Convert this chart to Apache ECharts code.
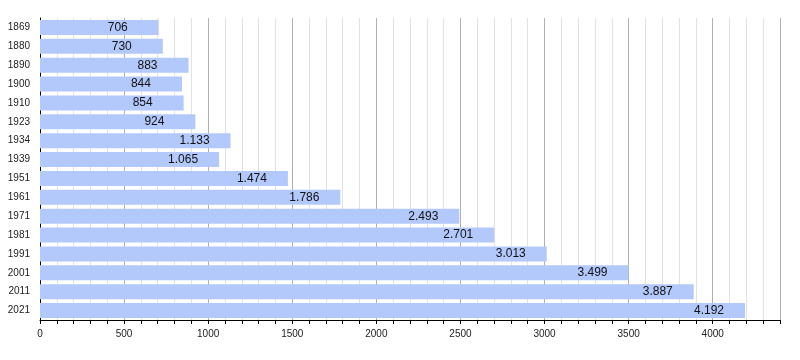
<!DOCTYPE html>
<html><head><meta charset="utf-8">
<script src="https://cdn.jsdelivr.net/npm/echarts@6/dist/echarts.min.js"></script>
<style>html,body{margin:0;padding:0;background:#fff}#c{width:800px;height:360px}</style>
</head><body><div id="c"></div>
<script>
const years = ['1869','1880','1890','1900','1910','1923','1934','1939','1951','1961','1971','1981','1991','2001','2011','2021'];
const population = [706,730,883,844,854,924,1133,1065,1474,1786,2493,2701,3013,3499,3887,4192];
const xTicks = [0,500,1000,1500,2000,2500,3000,3500,4000];

function fmt(v){return String(v).replace(/\B(?=(\d{3})+(?!\d))/g,'.');}

const chart = echarts.init(document.getElementById('c'), null, {renderer:'canvas'});
chart.setOption({
  animation:false,
  grid:{left:40,right:20,top:18,bottom:40},
  xAxis:{
    type:'value',min:0,max:4400,interval:500,
    axisLine:{show:true,lineStyle:{color:'#000',width:1}},
    axisTick:{show:true,length:4,inside:false,lineStyle:{color:'#000'}},
    minorTick:{show:true,splitNumber:5,length:4,lineStyle:{color:'#000'}},
    axisLabel:{color:'#222',fontSize:10,fontFamily:'Liberation Sans, Arial',margin:9,
      formatter:v=>xTicks.includes(v)?String(v):''},
    splitLine:{show:true,lineStyle:{color:'#b0b0b0',width:1}},
    minorSplitLine:{show:true,lineStyle:{color:'#e2e2e2',width:1}}
  },
  yAxis:{
    type:'category',data:years,inverse:true,
    axisLine:{show:true,lineStyle:{color:'#000'}},
    axisTick:{show:false},
    axisLabel:{color:'#222',fontSize:10,fontFamily:'Liberation Sans, Arial',margin:10},
    splitLine:{show:false}
  },
  series:[{
    type:'bar',data:population,barWidth:15,
    itemStyle:{color:'#b3c8fb'},
    label:{show:true,position:'right',distance:0,offset:[-51,0],align:'left',color:'#111',fontSize:12,
      fontFamily:'Liberation Sans, Arial',formatter:p=>fmt(p.value)}
  }]
});
</script></body></html>
